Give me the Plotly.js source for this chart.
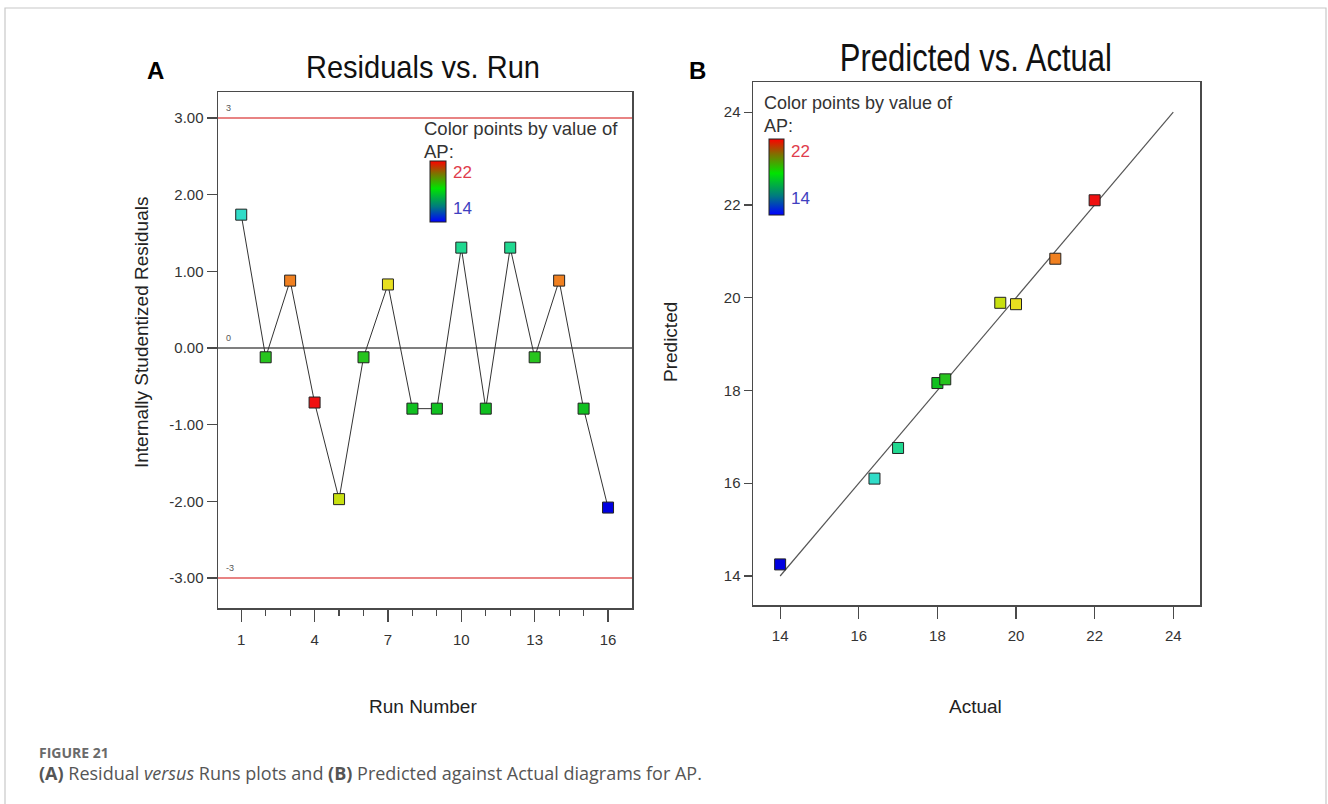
<!DOCTYPE html>
<html>
<head>
<meta charset="utf-8">
<script src="https://cdn.plot.ly/plotly-3.0.1.min.js"></script>
<style>
html,body{margin:0;padding:0;background:#fff;}
#chart{width:1328px;height:804px;}
</style>
</head>
<body>
<div id="chart"></div>
<script>
// ---------- data ----------
const runNumbers = [1,2,3,4,5,6,7,8,9,10,11,12,13,14,15,16];
const residuals  = [1.74,-0.12,0.88,-0.71,-1.97,-0.12,0.83,-0.79,-0.79,1.31,-0.79,1.31,-0.12,0.88,-0.79,-2.08];
const runAP      = [16.4,18.2,21,22,19.6,18.2,20,18,18,17,18,17,18.2,21,18,14];
const actualAP    = [14,16.4,17,18,18.2,19.6,20,21,22];
const predictedAP = [14.25,16.1,16.76,18.16,18.24,19.89,19.86,20.84,22.1];
const limitLines = [3,-3];
const zeroLine = [0];
const fitLine = [14,24];
const apRange = [14,22];
const yTicksA = [-3,-2,-1,0,1,2,3];
const yTickTextA = ['-3.00','-2.00','-1.00','0.00','1.00','2.00','3.00'];
const xTicksB = [14,16,18,20,22,24];

// ---------- helpers (page pixel -> paper) ----------
const W = 1328, H = 804;
const px = x => x / W;
const py = y => 1 - y / H;

const pointScale = [
  [0,'#0000e0'],[0.3,'#30dcc8'],[0.375,'#20d890'],[0.5,'#10c020'],
  [0.7,'#c8e010'],[0.75,'#e8e020'],[0.875,'#f08020'],[1,'#f01010']
];
const barScale = [[0,'#0000ff'],[0.25,'#007a80'],[0.55,'#00e400'],[0.8,'#807000'],[1,'#ff0000']];

const tickFont = {family:'Liberation Sans, Arial, sans-serif', size:15, color:'#333'};
const lineCol = '#4a4a4a';

const traces = [
  { // residuals vs run
    x: runNumbers, y: residuals, xaxis:'x', yaxis:'y', type:'scatter', mode:'lines+markers',
    line:{color:'#333', width:1},
    marker:{symbol:'square', size:11, color: runAP, cmin: apRange[0], cmax: apRange[1],
            colorscale: pointScale, showscale:false, line:{color:'#222', width:1}},
    showlegend:false, hoverinfo:'x+y'
  },
  { // fit line
    x: fitLine, y: fitLine, xaxis:'x2', yaxis:'y2', type:'scatter', mode:'lines',
    line:{color:'#555', width:1.2}, showlegend:false, hoverinfo:'skip'
  },
  { // predicted vs actual
    x: actualAP, y: predictedAP, xaxis:'x2', yaxis:'y2', type:'scatter', mode:'markers',
    marker:{symbol:'square', size:11, color: actualAP, cmin: apRange[0], cmax: apRange[1],
            colorscale: pointScale, showscale:false, line:{color:'#222', width:1}},
    showlegend:false
  },
  { // colour bar legend A
    x:[null,null], y:[null,null], xaxis:'x', yaxis:'y', type:'scatter', mode:'markers',
    marker:{color: apRange, cmin: apRange[0], cmax: apRange[1], colorscale: barScale, showscale:true,
      colorbar:{x:px(429.5), xanchor:'left', y:py(191), yanchor:'middle', thickness:16, thicknessmode:'pixels',
        len:61, lenmode:'pixels', xpad:0, ypad:0, outlinewidth:1, outlinecolor:'#222',
        showticklabels:false, ticks:'', borderwidth:0}},
    showlegend:false, hoverinfo:'skip'
  },
  { // colour bar legend B
    x:[null,null], y:[null,null], xaxis:'x2', yaxis:'y2', type:'scatter', mode:'markers',
    marker:{color: apRange, cmin: apRange[0], cmax: apRange[1], colorscale: barScale, showscale:true,
      colorbar:{x:px(768.5), xanchor:'left', y:py(177), yanchor:'middle', thickness:15, thicknessmode:'pixels',
        len:76, lenmode:'pixels', xpad:0, ypad:0, outlinewidth:1, outlinecolor:'#222',
        showticklabels:false, ticks:'', borderwidth:0}},
    showlegend:false, hoverinfo:'skip'
  }
];

const shapes = [];
limitLines.forEach(v => shapes.push({type:'line', xref:'x domain', yref:'y', x0:0, x1:1, y0:v, y1:v,
  line:{color:'#e05a5a', width:1.5}, layer:'below'}));
zeroLine.forEach(v => shapes.push({type:'line', xref:'x domain', yref:'y', x0:0, x1:1, y0:v, y1:v,
  line:{color:'#555', width:1.5}, layer:'below'}));
// outer figure frame
shapes.push({type:'path', xref:'paper', yref:'paper',
  path:`M ${px(5)} -0.05 L ${px(5)} ${py(8)} L ${px(1326)} ${py(8)} L ${px(1326)} -0.05`,
  line:{color:'#c8c8c8', width:1.2}});

const ann = [];
const A = (text, x, y, opts={}) => ann.push(Object.assign({text, x:px(x), y:py(y), xref:'paper', yref:'paper',
  showarrow:false, xanchor:'center', yanchor:'middle'}, opts));

const titleFont = {family:'Liberation Sans, Arial, sans-serif', color:'#111'};
A('Residuals vs. Run', 423, 67, {font:Object.assign({size:32}, titleFont)});
A('Predicted vs. Actual', 976, 58, {font:Object.assign({size:38}, titleFont)});
A('<b>A</b>', 155, 70, {font:{family:'Liberation Sans, Arial, sans-serif', size:24, color:'#000'}});
A('<b>B</b>', 697, 70, {font:{family:'Liberation Sans, Arial, sans-serif', size:24, color:'#000'}});

const labFont = {family:'Liberation Sans, Arial, sans-serif', size:19, color:'#222'};
A('Internally Studentized Residuals', 141, 333, {textangle:-90, font:labFont});
A('Run Number', 423, 706, {font:labFont});
A('Predicted', 670, 342, {textangle:-90, font:labFont});
A('Actual', 975, 706, {font:labFont});

const legFont = {family:'Liberation Sans, Arial, sans-serif', size:18.5, color:'#333'};
A('Color points by value of', 422, 129, {xanchor:'left', font:legFont});
A('AP:', 422, 151, {xanchor:'left', font:legFont});
A('22', 451, 172, {xanchor:'left', font:{family:'Liberation Sans, Arial, sans-serif', size:17, color:'#e03c4c'}});
A('14', 451, 209, {xanchor:'left', font:{family:'Liberation Sans, Arial, sans-serif', size:17, color:'#4040c0'}});
const legFontB = {family:'Liberation Sans, Arial, sans-serif', size:18, color:'#333'};
A('Color points by value of', 762, 103, {xanchor:'left', font:legFontB});
A('AP:', 762, 126, {xanchor:'left', font:legFontB});
A('22', 789, 151, {xanchor:'left', font:{family:'Liberation Sans, Arial, sans-serif', size:17, color:'#e03c4c'}});
A('14', 789, 199, {xanchor:'left', font:{family:'Liberation Sans, Arial, sans-serif', size:17, color:'#4040c0'}});

// small limit labels
const smallFont = {family:'Liberation Sans, Arial, sans-serif', size:9, color:'#555'};
limitLines.concat(zeroLine).forEach(v => ann.push({text:String(v), xref:'x domain', yref:'y', x:0.015, y:v,
  yshift:10, xanchor:'left', yanchor:'middle', showarrow:false, font:smallFont}));

// caption
A('<b>FIGURE 21</b>', 37, 752, {xanchor:'left', font:{family:'Open Sans, Noto Sans, sans-serif', size:14, color:'#6a6a6a'}});
A('<b>(A)</b> Residual <i>versus</i> Runs plots and <b>(B)</b> Predicted against Actual diagrams for AP.', 37, 773,
  {xanchor:'left', font:{family:'Open Sans, Noto Sans, sans-serif', size:18, color:'#555'}});

const axisBase = {showline:true, mirror:true, linecolor:lineCol, linewidth:1.5, showgrid:false, zeroline:false,
  ticks:'outside', tickcolor:lineCol, tickwidth:1.2, tickfont:tickFont, fixedrange:true};

const layout = {
  width:W, height:H, margin:{l:0,r:0,t:0,b:0}, paper_bgcolor:'#fff', plot_bgcolor:'#fff',
  showlegend:false,
  xaxis: Object.assign({}, axisBase, {domain:[px(218), px(632)], range:[0.05,16.98],
    tick0:1, dtick:3, ticklen:12, ticklabelstandoff:5,
    minor:{tick0:1, dtick:1, ticks:'outside', ticklen:6, tickcolor:lineCol, tickwidth:1.2}}),
  yaxis: Object.assign({}, axisBase, {domain:[py(608), py(92)], range:[-3.39,3.34],
    tickvals:yTicksA, ticktext:yTickTextA, ticklen:10}),
  xaxis2: Object.assign({}, axisBase, {anchor:'y2', domain:[px(753), px(1200)], range:[13.31,24.68],
    tickvals:xTicksB, ticklen:12, ticklabelstandoff:4}),
  yaxis2: Object.assign({}, axisBase, {anchor:'x2', domain:[py(605), py(82)], range:[13.375,24.65],
    tickvals:xTicksB, ticklen:8}),
  shapes: shapes,
  annotations: ann
};

Plotly.newPlot('chart', traces, layout, {displayModeBar:false, staticPlot:true}).then(() => {
  // the original titles are horizontally condensed: squeeze the glyphs to the reference width
  const widths = {'Residuals vs. Run':234, 'Predicted vs. Actual':272};
  document.querySelectorAll('.annotation-text').forEach(t => {
    const w = widths[t.textContent];
    if (w) { t.setAttribute('textLength', w); t.setAttribute('lengthAdjust', 'spacingAndGlyphs'); }
  });
});
</script>
</body>
</html>
